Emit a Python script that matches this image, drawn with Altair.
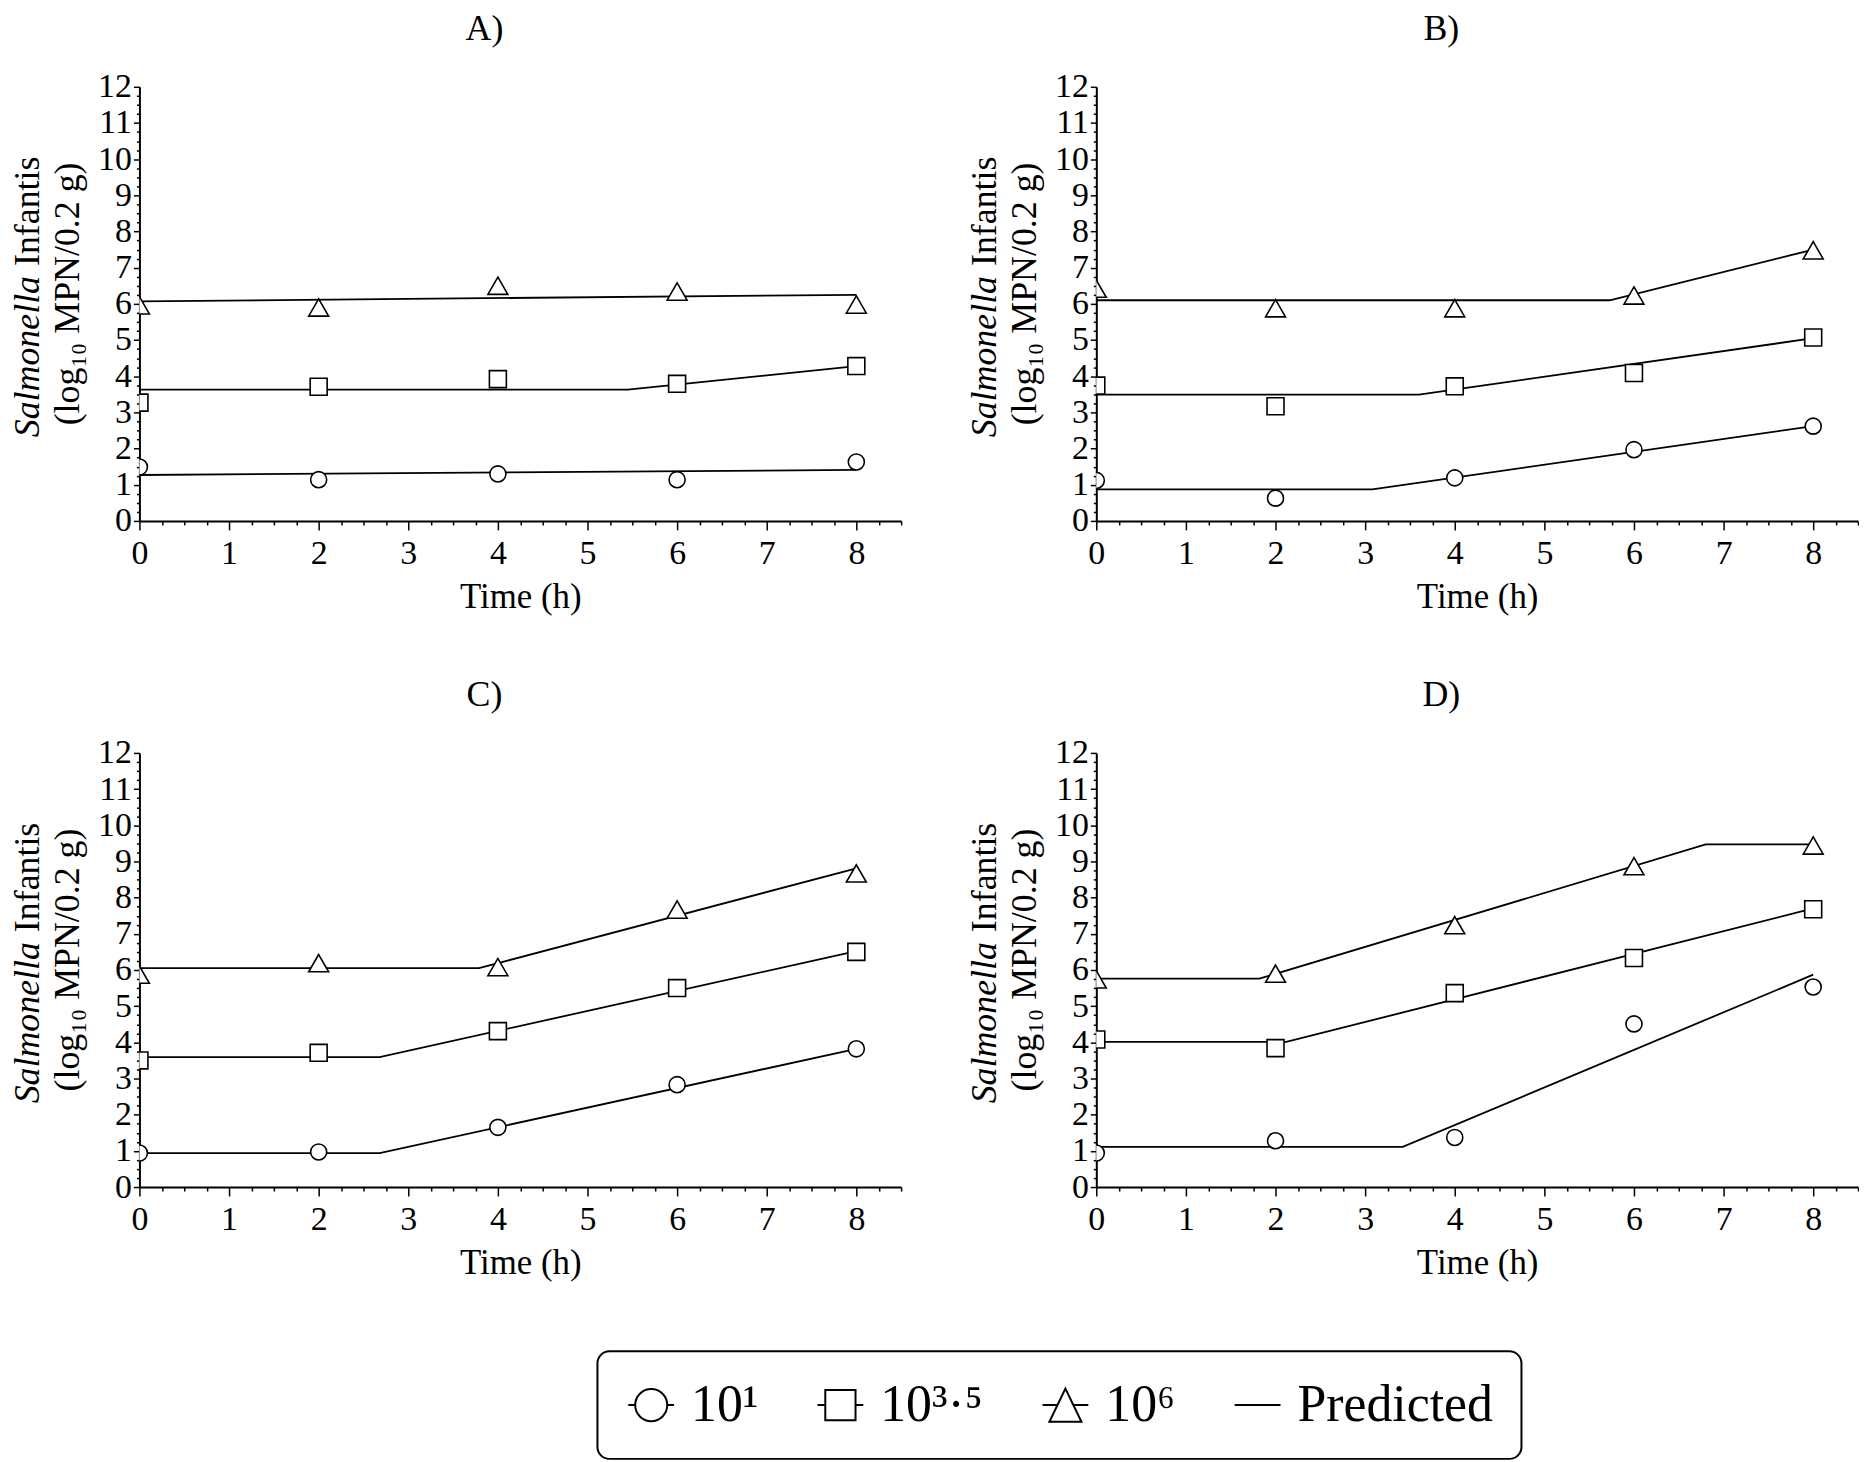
import altair as alt
import pandas as pd

# ---------------- data ----------------
TIME = [0, 2, 4, 6, 8]
SERIES = ["10¹", "10³·⁵", "10⁶"]
LEGEND_LABELS = ["10¹", "10³·⁵", "10⁶", "Predicted"]
PANEL_TITLES = ["A)", "B)", "C)", "D)"]
X_TITLE = "Time (h)"
Y_TITLE_ITALIC = "Salmonella"
Y_TITLE_REST = "Infantis"
Y_TITLE_LINE2 = "(log₁₀ MPN/0.2 g)"

# Panel A
A_OBS_1 = [1.49, 1.14, 1.30, 1.14, 1.63]
A_OBS_35 = [3.27, 3.71, 3.92, 3.79, 4.28]
A_OBS_6 = [5.96, 5.90, 6.50, 6.34, 5.98]
A_PRED_1_T = [0, 8]
A_PRED_1_Y = [1.27, 1.41]
A_PRED_35_T = [0, 5.45, 8]
A_PRED_35_Y = [3.63, 3.63, 4.28]
A_PRED_6_T = [0, 8]
A_PRED_6_Y = [6.07, 6.25]

# Panel B
B_OBS_1 = [1.12, 0.63, 1.19, 1.97, 2.62]
B_OBS_35 = [3.74, 3.17, 3.72, 4.09, 5.07]
B_OBS_6 = [6.42, 5.88, 5.88, 6.23, 7.48]
B_PRED_1_T = [0, 3.08, 8]
B_PRED_1_Y = [0.87, 0.87, 2.62]
B_PRED_35_T = [0, 3.6, 8]
B_PRED_35_Y = [3.49, 3.49, 5.05]
B_PRED_6_T = [0, 5.73, 8]
B_PRED_6_Y = [6.10, 6.10, 7.50]

# Panel C
C_OBS_1 = [0.94, 0.97, 1.65, 2.83, 3.82]
C_OBS_35 = [3.50, 3.71, 4.31, 5.50, 6.50]
C_OBS_6 = [5.87, 6.19, 6.08, 7.67, 8.67]
C_PRED_1_T = [0, 2.68, 8]
C_PRED_1_Y = [0.94, 0.94, 3.82]
C_PRED_35_T = [0, 2.68, 8]
C_PRED_35_Y = [3.59, 3.59, 6.52]
C_PRED_6_T = [0, 3.79, 8]
C_PRED_6_Y = [6.05, 6.05, 8.81]

# Panel D
D_OBS_1 = [0.94, 1.28, 1.37, 4.51, 5.53]
D_OBS_35 = [4.08, 3.84, 5.36, 6.33, 7.68]
D_OBS_6 = [5.74, 5.90, 7.24, 8.87, 9.44]
D_PRED_1_T = [0, 3.42, 8]
D_PRED_1_Y = [1.11, 1.11, 5.87]
D_PRED_35_T = [0, 2.12, 8]
D_PRED_35_Y = [4.01, 4.01, 7.70]
D_PRED_6_T = [0, 1.82, 6.8, 8]
D_PRED_6_Y = [5.76, 5.76, 9.47, 9.47]

X_DOMAIN = [0, 8.5]
Y_DOMAIN = [0, 12]
X_TICKS = [i * 0.25 for i in range(35)]
Y_TICKS = [i * 0.25 for i in range(49)]

# ---------------- styling ----------------
FONT = "Liberation Serif"
W, H = 765, 436
MARKERS = [("circle", 260), ("square", 290), ("triangle-up", 400)]
LEGEND_PATHS = [
    "M-1,0L-0.7,0M0.7,0L1,0M0.7,0A0.7,0.7,0,1,1,-0.7,0A0.7,0.7,0,1,1,0.7,0Z",
    "M-1,0L-0.66,0M0.66,0L1,0M-0.66,-0.66L0.66,-0.66L0.66,0.66L-0.66,0.66Z",
    "M-1,0L-0.35,0M0.35,0L1,0M0,-0.72L0.7,0.73L-0.7,0.73Z",
    "M-1,0L1,0",
]
INT_LABEL = "datum.value % 1 === 0 ? format(datum.value, 'd') : ''"

x_axis = alt.Axis(
    values=X_TICKS,
    labelExpr=INT_LABEL,
    tickSize={"condition": {"test": "datum.value % 1 === 0", "value": 9}, "value": 4},
    labelPadding=7,
    labelOverlap=False,
    labelFlush=False,
    title=X_TITLE,
    titlePadding=9,
    grid=False,
)
y_axis = alt.Axis(
    values=Y_TICKS,
    labelExpr=INT_LABEL,
    tickSize={"condition": {"test": "datum.value % 1 === 0", "value": 6}, "value": 3},
    labelPadding=2,
    labelOverlap=False,
    labelFlush=False,
    title=None,
    grid=False,
)


def panel(title, obs, preds, with_legend=False):
    obs_rows = []
    for name, vals in zip(SERIES, obs):
        for t, v in zip(TIME, vals):
            obs_rows.append({"t": t, "y": v, "s": name})
    obs_df = pd.DataFrame(obs_rows)
    pred_rows = []
    for name, (ts, ys) in zip(SERIES, preds):
        for t, v in zip(ts, ys):
            pred_rows.append({"t": t, "y": v, "s": name})
    pred_df = pd.DataFrame(pred_rows)

    xenc = alt.X("t:Q", scale=alt.Scale(domain=X_DOMAIN, nice=False, zero=False), axis=x_axis)
    yenc = alt.Y("y:Q", scale=alt.Scale(domain=Y_DOMAIN, nice=False), axis=y_axis)

    layers = [
        alt.Chart(pred_df)
        .mark_line(color="black", strokeWidth=1.8, clip=True)
        .encode(x=xenc, y=yenc, detail="s:N")
    ]
    for name, (shp, sz) in zip(SERIES, MARKERS):
        layers.append(
            alt.Chart(obs_df)
            .transform_filter(alt.datum.s == name)
            .mark_point(shape=shp, size=sz, filled=True, fill="white", stroke="black",
                        strokeWidth=1.6, opacity=1, clip=True)
            .encode(x=xenc, y=yenc)
        )
    # y-axis title: italic genus name + rest, and second line
    layers.append(
        alt.Chart(pd.DataFrame({"txt": [Y_TITLE_ITALIC]}))
        .mark_text(angle=270, font=FONT, fontSize=36, fontStyle="italic", align="right",
                   baseline="middle", color="black")
        .encode(text="txt:N", x=alt.value(-112), y=alt.value(190))
    )
    layers.append(
        alt.Chart(pd.DataFrame({"txt": [Y_TITLE_REST]}))
        .mark_text(angle=270, font=FONT, fontSize=36, align="left",
                   baseline="middle", color="black")
        .encode(text="txt:N", x=alt.value(-112), y=alt.value(180))
    )
    layers.append(
        alt.Chart(pd.DataFrame({"txt": [Y_TITLE_LINE2]}))
        .mark_text(angle=270, font=FONT, fontSize=36, align="center",
                   baseline="middle", color="black")
        .encode(text="txt:N", x=alt.value(-72), y=alt.value(208))
    )
    if with_legend:
        # legend-only layer: its symbols are clipped away outside the plot area
        layers.append(
            alt.Chart(pd.DataFrame({"lab": LEGEND_LABELS}))
            .mark_point(filled=False, color="black", strokeWidth=2, clip=True)
            .encode(
                shape=alt.Shape(
                    "lab:N",
                    scale=alt.Scale(domain=LEGEND_LABELS, range=LEGEND_PATHS),
                    legend=alt.Legend(
                        title=None,
                        orient="none",
                        legendX=460,
                        legendY=1270,
                        direction="horizontal",
                        symbolSize=2116,
                        symbolStrokeWidth=2,
                        symbolStrokeColor="black",
                        symbolFillColor="white",
                        symbolOpacity=1,
                        labelFont=FONT,
                        labelFontSize=52,
                        labelColor="black",
                        labelLimit=500,
                        labelOffset=14,
                        columnPadding=55,
                        padding=28,
                        fillColor="white",
                        strokeColor="black",
                        cornerRadius=12,
                    ),
                ),
                x=alt.value(W / 2 + 200),
                y=alt.value(H + 60),
            )
        )
    return alt.layer(*layers).properties(
        width=W,
        height=H,
        title=alt.TitleParams(title, font=FONT, fontSize=36, fontWeight="normal",
                              color="black", offset=22, dx=-36, anchor="middle"),
    )


pA = panel(PANEL_TITLES[0], [A_OBS_1, A_OBS_35, A_OBS_6],
           [(A_PRED_1_T, A_PRED_1_Y), (A_PRED_35_T, A_PRED_35_Y), (A_PRED_6_T, A_PRED_6_Y)],
           with_legend=True)
pB = panel(PANEL_TITLES[1], [B_OBS_1, B_OBS_35, B_OBS_6],
           [(B_PRED_1_T, B_PRED_1_Y), (B_PRED_35_T, B_PRED_35_Y), (B_PRED_6_T, B_PRED_6_Y)])
pC = panel(PANEL_TITLES[2], [C_OBS_1, C_OBS_35, C_OBS_6],
           [(C_PRED_1_T, C_PRED_1_Y), (C_PRED_35_T, C_PRED_35_Y), (C_PRED_6_T, C_PRED_6_Y)])
pD = panel(PANEL_TITLES[3], [D_OBS_1, D_OBS_35, D_OBS_6],
           [(D_PRED_1_T, D_PRED_1_Y), (D_PRED_35_T, D_PRED_35_Y), (D_PRED_6_T, D_PRED_6_Y)])

chart = (
    alt.concat(pA, pB, pC, pD, columns=2, spacing={"row": 63, "column": 65})
    .properties(padding={"left": 2, "top": 0, "right": 0, "bottom": 0}, background="white")
    .configure_view(stroke=None)
    .configure_axis(
        domainColor="black",
        domainWidth=2,
        tickColor="black",
        tickWidth=1.5,
        labelColor="black",
        labelFont=FONT,
        labelFontSize=34,
        titleColor="black",
        titleFont=FONT,
        titleFontSize=35,
        titleFontWeight="normal",
    )
    .configure_legend(strokeWidth=2)
)

chart.save("out.html", embed_options={"renderer": "svg", "actions": False})
